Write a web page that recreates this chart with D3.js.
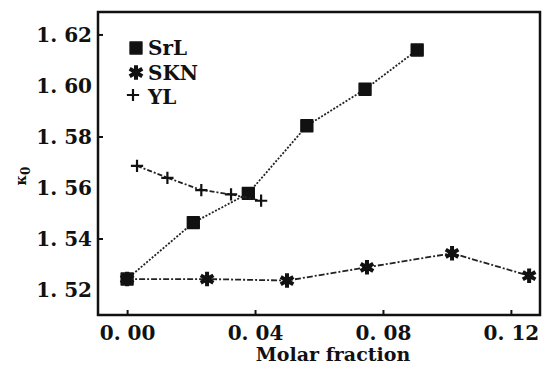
<!DOCTYPE html>
<html>
<head>
<meta charset="utf-8">
<script src="https://cdn.jsdelivr.net/npm/d3@7"></script>
<style>
  body { margin: 0; background: #fff; }
  text { font-family: "DejaVu Serif", serif; font-weight: bold; fill: #111; }
</style>
</head>
<body>
<script>
// values
const seriesNames = ["SrL", "SKN", "YL"];
const srlX = [0, 0.0207, 0.0379, 0.0562, 0.0744, 0.0907];
const srlY = [1.5243, 1.5464, 1.5579, 1.5844, 1.5987, 1.6141];
const sknX = [0, 0.025, 0.05, 0.075, 0.1016, 0.1257];
const sknY = [1.5243, 1.5243, 1.5237, 1.5289, 1.5344, 1.5256];
const ylX = [0.0031, 0.0126, 0.0232, 0.0325, 0.0419];
const ylY = [1.5687, 1.564, 1.5592, 1.5575, 1.555];
const xTicks = [0, 0.04, 0.08, 0.12];
const yTicks = [1.52, 1.54, 1.56, 1.58, 1.6, 1.62];
const yMajor = [1.54, 1.58, 1.62];

const width = 545, height = 365;
const svg = d3.select("body").append("svg")
  .attr("width", width).attr("height", height);

const x = d3.scaleLinear().domain([-0.0091, 0.1291]).range([98, 540]);
const y = d3.scaleLinear().domain([1.5102, 1.629]).range([315, 12]);

// frame
svg.append("rect")
  .attr("x", 98).attr("y", 12).attr("width", 442).attr("height", 303)
  .attr("fill", "none").attr("stroke", "#111").attr("stroke-width", 2.5);

// axes with inward ticks
const xAxis = svg.append("g").attr("transform", "translate(0,315)")
  .call(d3.axisBottom(x).tickValues(xTicks).tickSizeInner(-5).tickSizeOuter(0)
    .tickPadding(11).tickFormat(d => d3.format(".2f")(d).replace(".", ". ")));
const yAxis = svg.append("g").attr("transform", "translate(98,0)")
  .call(d3.axisLeft(y).tickValues(yTicks).tickSizeInner(0).tickSizeOuter(0)
    .tickPadding(6).tickFormat(d => d3.format(".2f")(d).replace(".", ". ")));
[xAxis, yAxis].forEach(g => {
  g.select(".domain").remove();
  g.selectAll("line").attr("stroke", "#111").attr("stroke-width", 2);
  g.selectAll("text").attr("font-size", 20).attr("fill", "#111")
    .style("font-family", '"DejaVu Serif", serif').style("font-weight", "bold");
});
svg.append("g").selectAll("line").data(yMajor).enter().append("line")
  .attr("x1", 98).attr("x2", 103).attr("y1", d => y(d)).attr("y2", d => y(d))
  .attr("stroke", "#111").attr("stroke-width", 2);

// axis titles
svg.append("text").attr("x", 333).attr("y", 361).attr("text-anchor", "middle")
  .attr("font-size", 19).text("Molar fraction");
const yl = svg.append("text").attr("transform", "translate(26,176) rotate(-90)")
  .attr("text-anchor", "middle").attr("font-size", 14);
yl.append("tspan").text("κ");
yl.append("tspan").attr("dy", 4).attr("font-size", 12).text("0");

// symbols
const plus = {
  draw(ctx, size) {
    const r = Math.sqrt(size) / 2;
    ctx.moveTo(-r, 0); ctx.lineTo(r, 0);
    ctx.moveTo(0, -r); ctx.lineTo(0, r);
  }
};
const symSquare = d3.symbol(d3.symbolSquare, 140);
const symStar = d3.symbol(d3.symbolAsterisk, 150);
const symPlus = d3.symbol(plus, 150);

const series = [
  { name: seriesNames[0], xs: srlX, ys: srlY, dash: "2,1.6", draw: g => g.append("path").attr("d", symSquare()).attr("fill", "#111").attr("stroke", "#111").attr("stroke-width", 1.5).attr("stroke-linejoin", "round") },
  { name: seriesNames[1], xs: sknX, ys: sknY, dash: "6,2,2,2", draw: g => {
      g.append("path").attr("d", symStar()).attr("fill", "none").attr("stroke", "#111").attr("stroke-width", 4);
      g.append("circle").attr("r", 4).attr("fill", "#111");
    } },
  { name: seriesNames[2], xs: ylX, ys: ylY, dash: "5,2,2,2", draw: g => g.append("path").attr("d", symPlus()).attr("fill", "none").attr("stroke", "#111").attr("stroke-width", 2.2) }
];

const line = d3.line().x(d => x(d[0])).y(d => y(d[1]));
series.forEach(s => {
  const pts = s.xs.map((v, i) => [v, s.ys[i]]);
  svg.append("path").datum(pts).attr("d", line)
    .attr("fill", "none").attr("stroke", "#222").attr("stroke-width", 1.8)
    .attr("stroke-dasharray", s.dash);
  svg.append("g").selectAll("g").data(pts).enter().append("g")
    .attr("transform", d => `translate(${x(d[0])},${y(d[1])})`)
    .each(function () { s.draw(d3.select(this)); });
});

// legend
const legend = svg.append("g");
series.forEach((s, i) => {
  const row = legend.append("g").attr("transform", `translate(0,${i * 24.5})`);
  const mark = row.append("g").attr("transform", `translate(${i === 2 ? 133 : 136},${48 - (i === 2 ? 2 : 0)})`);
  s.draw(mark);
  row.append("text").attr("x", 148).attr("y", 55).attr("font-size", 20).text(s.name);
});
</script>
</body>
</html>
